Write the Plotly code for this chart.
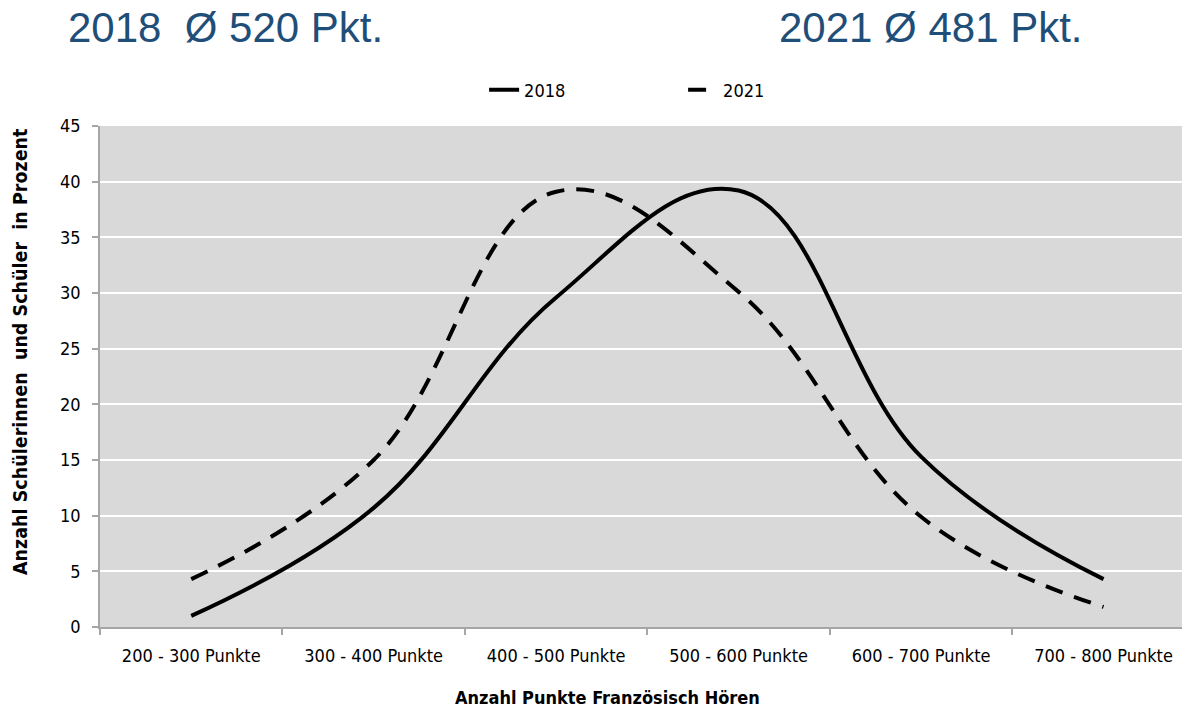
import plotly.graph_objects as go

categories = ["200 - 300 Punkte", "300 - 400 Punkte", "400 - 500 Punkte",
              "500 - 600 Punkte", "600 - 700 Punkte", "700 - 800 Punkte"]
values_2018 = [1.0, 10.7, 29.6, 39.2, 15.3, 4.3]
values_2021 = [4.3, 15.0, 39.1, 30.1, 9.9, 1.8]
y_ticks = [0, 5, 10, 15, 20, 25, 30, 35, 40, 45]

cond = "DejaVu Sans Condensed, Liberation Sans Narrow, Roboto Condensed, Arial Narrow, sans-serif"

fig = go.Figure()
fig.add_trace(go.Scatter(
    x=categories, y=values_2018, name="2018", mode="lines",
    line=dict(color="black", width=4, shape="spline", smoothing=1.15),
))
fig.add_trace(go.Scatter(
    x=categories, y=values_2021, name="2021", mode="lines",
    line=dict(color="black", width=4, shape="spline", smoothing=1.15, dash="18px,12px"),
))

fig.update_layout(
    width=1182, height=710,
    margin=dict(l=100, r=0, t=126, b=83),
    paper_bgcolor="white",
    plot_bgcolor="#D9D9D9",
    showlegend=True,
    legend=dict(orientation="h", x=0.355, xanchor="left", y=1.072, yanchor="middle",
                font=dict(family=cond, size=18, color="black"),
                entrywidth=154, entrywidthmode="pixels",
                bgcolor="rgba(0,0,0,0)"),
    font=dict(family=cond, color="black"),
)

fig.update_xaxes(
    type="category", range=[-0.5, 5.43],
    showgrid=False, showline=True, linecolor="#A6A6A6", linewidth=1.5,
    ticks="outside", tickson="boundaries", ticklen=6, tickcolor="#A6A6A6", tickwidth=1.5,
    ticklabelstandoff=12,
    tickfont=dict(family=cond, size=18, color="black"),
)
fig.update_yaxes(
    range=[0, 45], tickvals=y_ticks,
    showgrid=True, gridcolor="white", gridwidth=2,
    showline=True, linecolor="#A6A6A6", linewidth=1.5,
    ticks="outside", ticklen=6, tickcolor="#A6A6A6", tickwidth=1.5,
    ticklabelstandoff=8,
    tickfont=dict(family=cond, size=18, color="black"),
    zeroline=False,
)

# axis titles placed as annotations to match the reference offsets
fig.add_annotation(text="<b>Anzahl Punkte Französisch Hören</b>", xref="paper", yref="paper",
                   x=(607 - 100) / 1082, xanchor="center", y=-(697 - 627) / 501, yanchor="middle",
                   showarrow=False, font=dict(family=cond, size=18, color="black"))
fig.add_annotation(text="<b>Anzahl Schülerinnen  und Schüler  in Prozent</b>", xref="paper", yref="paper",
                   x=-(100 - 20) / 1082, xanchor="center", y=(627 - 352) / 501, yanchor="middle",
                   textangle=-90, showarrow=False, font=dict(family=cond, size=19.5, color="black"))

title_y = 1 + (126 - 28) / 501
fig.add_annotation(text="2018  Ø 520 Pkt.", xref="paper", yref="paper",
                   x=(66 - 100) / 1082, xanchor="left", y=title_y,
                   yanchor="middle", showarrow=False,
                   font=dict(family="Liberation Sans, Arial, sans-serif", size=42, color="#1F4E79"))
fig.add_annotation(text="2021 Ø 481 Pkt.", xref="paper", yref="paper",
                   x=(777 - 100) / 1082, xanchor="left", y=title_y,
                   yanchor="middle", showarrow=False,
                   font=dict(family="Liberation Sans, Arial, sans-serif", size=42, color="#1F4E79"))

fig.write_html("out.html")
